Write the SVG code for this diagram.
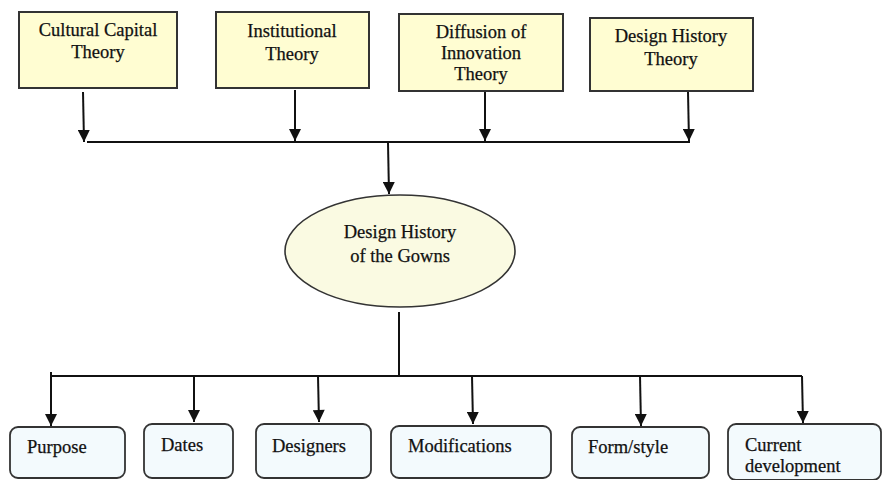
<svg xmlns="http://www.w3.org/2000/svg" width="883" height="480" viewBox="0 0 883 480">
<style>
.t{font-family:"Liberation Serif","Times New Roman",serif;font-size:18.5px;fill:#111;stroke:#111;stroke-width:0.25}
.m{text-anchor:middle}
.top{fill:#FFFDD2;stroke:#333;stroke-width:2}
.bot{fill:#F3FAFD;stroke:#333;stroke-width:1.8}
.ell{fill:#FAFAE2;stroke:#333;stroke-width:1.6}
.c{stroke:#111;stroke-width:2;fill:none}
</style>
<defs>
<marker id="ah" viewBox="0 0 12 12" refX="12" refY="6" markerWidth="13" markerHeight="12" markerUnits="userSpaceOnUse" orient="auto">
<path d="M0,0 L12,6 L0,12 z" fill="#111"/>
</marker>
</defs>
<rect width="883" height="480" fill="#fff"/>
<g id="n-cultural"><rect class="top" x="19" y="12" width="158" height="76"/><text class="t m" x="98" y="36">Cultural Capital</text><text class="t m" x="98" y="58">Theory</text></g>
<g id="n-institutional"><rect class="top" x="216" y="12" width="153" height="76"/><text class="t m" x="292" y="37">Institutional</text><text class="t m" x="292" y="60">Theory</text></g>
<g id="n-diffusion"><rect class="top" x="399" y="14" width="164" height="77"/><text class="t m" x="481" y="38">Diffusion of</text><text class="t m" x="481" y="59">Innovation</text><text class="t m" x="481" y="80">Theory</text></g>
<g id="n-designhistory"><rect class="top" x="590" y="18" width="163" height="73"/><text class="t m" x="671" y="42">Design History</text><text class="t m" x="671" y="65">Theory</text></g>
<g id="n-gowns"><ellipse class="ell" cx="400" cy="251" rx="115" ry="56"/><text class="t m" x="400" y="238">Design History</text><text class="t m" x="400" y="262">of the Gowns</text></g>
<g id="n-purpose"><rect class="bot" x="10" y="427" width="115" height="51" rx="8"/><text class="t" x="27" y="453">Purpose</text></g>
<g id="n-dates"><rect class="bot" x="144" y="424" width="89" height="54" rx="8"/><text class="t" x="161" y="451">Dates</text></g>
<g id="n-designers"><rect class="bot" x="256" y="424" width="115" height="54" rx="8"/><text class="t" x="272" y="452">Designers</text></g>
<g id="n-modifications"><rect class="bot" x="391" y="426" width="160" height="52" rx="8"/><text class="t" x="408" y="452">Modifications</text></g>
<g id="n-formstyle"><rect class="bot" x="572" y="427" width="137" height="51" rx="8"/><text class="t" x="588" y="453">Form/style</text></g>
<g id="n-current"><rect class="bot" x="728" y="424" width="153" height="56" rx="8"/><text class="t" x="745" y="451">Current</text><text class="t" x="745" y="472">development</text></g>
<g id="connectors">
<line class="c" x1="83" y1="92" x2="84" y2="142" marker-end="url(#ah)"/>
<line class="c" x1="295" y1="90" x2="295" y2="141" marker-end="url(#ah)"/>
<line class="c" x1="485" y1="92" x2="485" y2="141" marker-end="url(#ah)"/>
<line class="c" x1="688" y1="92" x2="689" y2="141" marker-end="url(#ah)"/>
<line class="c" x1="87" y1="142" x2="690" y2="142"/>
<line class="c" x1="388" y1="143" x2="389" y2="194" marker-end="url(#ah)"/>
<line class="c" x1="399" y1="312" x2="399" y2="376"/>
<line class="c" x1="51" y1="376" x2="802" y2="376"/>
<line class="c" x1="51" y1="372" x2="51" y2="426" marker-end="url(#ah)"/>
<line class="c" x1="194" y1="377" x2="194" y2="422" marker-end="url(#ah)"/>
<line class="c" x1="318" y1="376" x2="319" y2="422" marker-end="url(#ah)"/>
<line class="c" x1="472" y1="376" x2="473" y2="424" marker-end="url(#ah)"/>
<line class="c" x1="640" y1="376" x2="641" y2="426" marker-end="url(#ah)"/>
<line class="c" x1="802" y1="376" x2="803" y2="423" marker-end="url(#ah)"/>
</g>
</svg>
